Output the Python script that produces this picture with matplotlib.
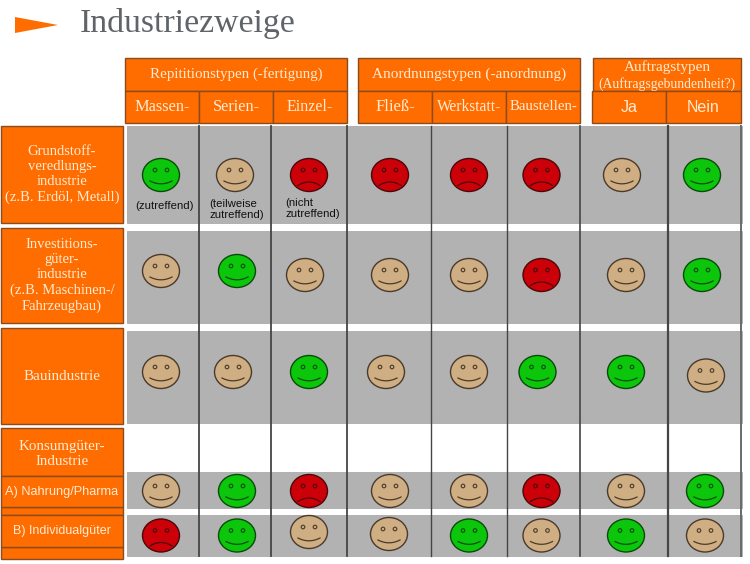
import numpy as np
import matplotlib
matplotlib.use("Agg")
import matplotlib.pyplot as plt
from matplotlib.patches import Rectangle, Ellipse, Polygon

SERIF = "Liberation Serif"
SANS = "Liberation Sans"

title = "Industriezweige"
groups = ["Repititionstypen (-fertigung)", "Anordnungstypen (-anordnung)"]
group3 = ["Auftragstypen", "(Auftragsgebundenheit?)"]
columns = ["Massen-", "Serien-", "Einzel-", "Fließ-", "Werkstatt-", "Baustellen-", "Ja", "Nein"]
row_labels = ["Grundstoff-\nveredlungs-\nindustrie\n(z.B. Erdöl, Metall)",
              "Investitions-\ngüter-\nindustrie\n(z.B. Maschinen-/\nFahrzeugbau)",
              "Bauindustrie"]
row_consumer = "Konsumgüter-\nIndustrie"
row_a = "A) Nahrung/Pharma"
row_b = "B) Individualgüter"

# g = zutreffend, t = teilweise, r = nicht zutreffend
r1 = ["g", "t", "r", "r", "r", "r", "t", "g"]
r2 = ["t", "g", "t", "t", "t", "r", "t", "g"]
r3 = ["t", "t", "g", "t", "t", "g", "g", "t"]
r4 = ["t", "g", "r", "t", "t", "r", "t", "g"]
r5 = ["r", "g", "t", "t", "g", "t", "g", "t"]
ratings = [r1, r2, r3, r4, r5]
legend_notes = ["(zutreffend)", "(teilweise\nzutreffend)", "(nicht\nzutreffend)"]

# layout (pixels)
sx = [[161, 235, 309, 390, 469, 541.5, 622, 702],
      [161, 237, 305, 390, 469, 541.5, 626, 702],
      [161, 233, 309, 386, 469, 537.5, 626, 706],
      [161, 237, 309, 390, 469, 541.5, 626, 705],
      [161, 237, 309, 389, 469, 541.5, 626, 705]]
sy = [[175, 175, 175, 175, 175, 175, 175, 175],
      [271, 271, 275, 275, 275, 275, 275, 275],
      [372, 372, 372, 372, 372, 372, 372, 375.5],
      [491, 491, 491, 491, 491, 491, 491, 491],
      [535.5, 535.5, 532, 534, 535.5, 535.5, 535.5, 535.5]]
bands = [(126, 223), (231, 323), (331, 423), (472, 508), (515, 556)]
vlines = [(199, 1.3), (271, 1.3), (347, 1.3), (431, 1.0), (507, 1.0), (580, 1.2), (668, 1.6)]

ORANGE = "#FF6C00"
EDGE = "#8A4B1E"
GRAY = "#B2B2B2"
TEXT = "#FFEBD2"
FILL = {"g": "#0CC60C", "t": "#CFAE84", "r": "#CC0008"}
LINE = {"g": "#0A4A0A", "t": "#4A3A2A", "r": "#4A0808"}

fig = plt.figure(figsize=(7.5, 5.64), dpi=100)
ax = fig.add_axes([0, 0, 1, 1])
ax.set_xlim(0, 750)
ax.set_ylim(564, 0)
ax.axis("off")


def box(x0, y0, x1, y1, text=None, size=10.5, family=SERIF, z=3, ty=None):
    ax.add_patch(Rectangle((x0, y0), x1 - x0, y1 - y0, fc=ORANGE, ec=EDGE, lw=1.0, zorder=z))
    if text:
        ax.text((x0 + x1) / 2, (y0 + y1) / 2 if ty is None else ty, text, ha="center", va="center",
                color=TEXT, fontsize=size, family=family, zorder=z + 1, linespacing=1.235)


def smiley(cx, cy, kind):
    ax.add_patch(Ellipse((cx, cy), 37, 33, fc=FILL[kind], ec=LINE[kind], lw=1.0, zorder=5))
    for dx in (-6, 6):
        ax.add_patch(Ellipse((cx + dx, cy - 5), 3.6, 3.6, fc="none", ec=LINE[kind], lw=0.8, zorder=6))
    t = np.linspace(-1, 1, 30)
    if kind == "r":
        my = cy + 10.5 - 3.5 * (1 - t ** 2)
    else:
        my = cy + 6 + 2.8 * (1 - t ** 2)
    ax.plot(cx + 11 * t, my, color=LINE[kind], lw=0.9, zorder=6)


# title and arrow
ax.add_patch(Polygon([(15, 17), (58, 25), (15, 33)], fc="#FF6C00", ec="none"))
ax.text(80, 32, title, ha="left", va="baseline", fontsize=24.3, family=SERIF, color="#5F6468")

# grey bands and column rules
for y0, y1 in bands:
    ax.add_patch(Rectangle((127, y0), 615, y1 - y0, fc=GRAY, ec="#A0A0A0", lw=0.5, zorder=1))
for x, w in vlines:
    ax.plot([x, x], [126, 556], color="#454545", lw=w, zorder=2)
ax.plot([740.5, 740.5], [126, 556], color="#6A6A6A", lw=1.4, zorder=2)

# column headers
box(125, 58, 347, 91, groups[0], 10.8)
box(358, 58, 580, 91, groups[1], 11)
box(593, 58, 741, 91)
ax.text(667, 67, group3[0], ha="center", va="center", fontsize=11, family=SERIF, color=TEXT, zorder=5)
ax.text(667, 84, group3[1], ha="center", va="center", fontsize=9.8, family=SERIF, color=TEXT, zorder=5)
edges = [(125, 199), (199, 273), (273, 347), (358, 432), (432, 506), (506, 580), (592, 666), (666, 741)]
head_sizes = [11.8, 11.7, 11.5, 12, 11.2, 10.7, 11.5, 11.5]
for i, ((x0, x1), lab, sz) in enumerate(zip(edges, columns, head_sizes)):
    box(x0, 91, x1, 123, lab, sz, SANS if i >= 6 else SERIF)

# row headers
box(1, 126, 123, 223, row_labels[0], 10.5)
box(1, 228, 123, 323, row_labels[1], 10.5)
box(1, 328, 123, 424, row_labels[2], 10.8)
box(1, 428, 123, 476, row_consumer, 10.8, ty=454)
box(1, 476, 123, 507, row_a, 9.2, SANS, z=4)
box(1, 507, 123, 515, z=3)
box(1, 515, 123, 547, row_b, 9.0, SANS, z=4)
box(1, 547, 123, 559, z=3)

# smileys
for row, xs, ys in zip(ratings, sx, sy):
    for kind, x, y in zip(row, xs, ys):
        smiley(x, y, kind)

# key texts
ax.text(164, 206, legend_notes[0], ha="center", va="center", fontsize=8.2, family=SANS, color="#111111", zorder=5)
ax.text(209, 209.5, legend_notes[1], ha="left", va="center", fontsize=8.2, family=SANS, color="#111111", zorder=5, linespacing=1.15)
ax.text(285, 208.5, legend_notes[2], ha="left", va="center", fontsize=8.2, family=SANS, color="#111111", zorder=5, linespacing=1.15)

fig.savefig("out.png", dpi=100)
